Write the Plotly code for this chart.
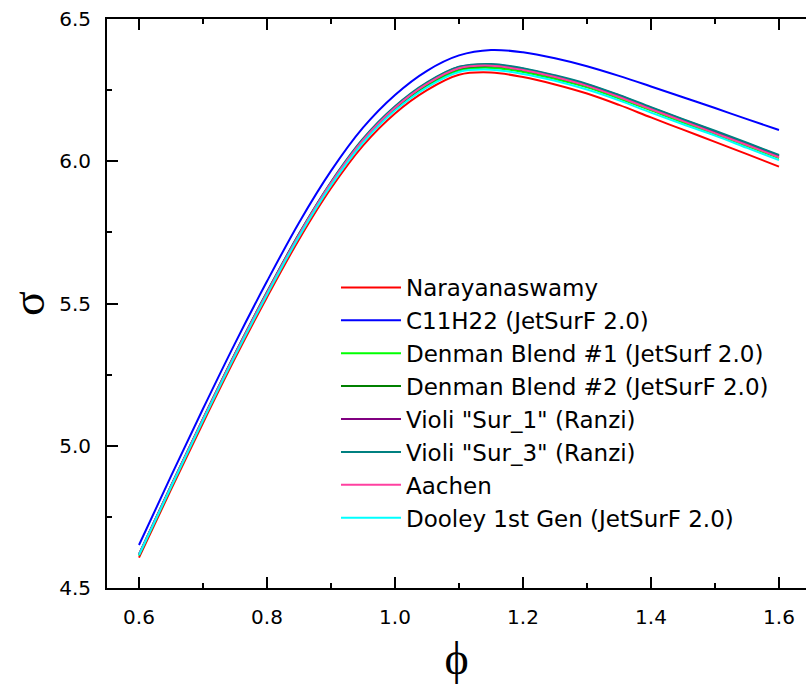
import plotly.graph_objects as go

# Equivalence ratio grid shared by all mechanisms
phi = [0.60, 0.65, 0.70, 0.75, 0.80, 0.85, 0.90, 0.95, 1.00, 1.05, 1.10,
       1.15, 1.20, 1.25, 1.30, 1.35, 1.40, 1.45, 1.50, 1.55, 1.60]

# Expansion ratio sigma for each surrogate / mechanism
narayanaswamy = [4.607, 4.846, 5.080, 5.307, 5.522, 5.725, 5.905, 6.055, 6.168, 6.250, 6.304,
                 6.312, 6.296, 6.270, 6.238, 6.198, 6.154, 6.111, 6.068, 6.025, 5.981]
c11h22 = [4.651, 4.893, 5.130, 5.360, 5.578, 5.784, 5.966, 6.118, 6.233, 6.318, 6.372,
          6.391, 6.383, 6.362, 6.334, 6.300, 6.263, 6.225, 6.187, 6.148, 6.110]
denman_1 = [4.614, 4.854, 5.089, 5.317, 5.532, 5.736, 5.917, 6.068, 6.182, 6.264, 6.319,
            6.328, 6.314, 6.289, 6.260, 6.220, 6.179, 6.136, 6.096, 6.053, 6.011]
denman_2 = [4.615, 4.855, 5.091, 5.319, 5.535, 5.739, 5.921, 6.072, 6.186, 6.270, 6.325,
            6.334, 6.320, 6.295, 6.265, 6.227, 6.184, 6.143, 6.102, 6.060, 6.018]
violi_sur1 = [4.618, 4.859, 5.094, 5.323, 5.539, 5.744, 5.925, 6.077, 6.191, 6.275, 6.331,
              6.340, 6.325, 6.300, 6.270, 6.231, 6.188, 6.146, 6.105, 6.063, 6.020]
violi_sur3 = [4.619, 4.860, 5.095, 5.324, 5.541, 5.745, 5.927, 6.079, 6.193, 6.277, 6.332,
              6.342, 6.327, 6.302, 6.272, 6.233, 6.190, 6.148, 6.107, 6.065, 6.022]
aachen = [4.617, 4.857, 5.093, 5.321, 5.537, 5.741, 5.923, 6.074, 6.188, 6.272, 6.327,
          6.336, 6.321, 6.296, 6.265, 6.226, 6.183, 6.141, 6.099, 6.057, 6.014]
dooley = [4.616, 4.855, 5.089, 5.316, 5.531, 5.735, 5.915, 6.065, 6.178, 6.260, 6.314,
          6.322, 6.307, 6.283, 6.252, 6.214, 6.171, 6.130, 6.090, 6.047, 6.004]

names = ["Narayanaswamy", "C11H22 (JetSurF 2.0)", "Denman Blend #1 (JetSurf 2.0)",
         "Denman Blend #2 (JetSurF 2.0)", 'Violi "Sur_1" (Ranzi)', 'Violi "Sur_3" (Ranzi)',
         "Aachen", "Dooley 1st Gen (JetSurF 2.0)"]
series = [narayanaswamy, c11h22, denman_1, denman_2, violi_sur1, violi_sur3, aachen, dooley]
colors = ["#FF0000", "#0000FF", "#00FF00", "#008000", "#800080", "#008080", "#FF40A0", "#00FFFF"]

fig = go.Figure()
for name, ys, col in zip(names, series, colors):
    fig.add_trace(go.Scatter(x=phi, y=ys, name=name, mode="lines",
                             line=dict(color=col, width=2, shape="spline")))

tick_font = dict(family="DejaVu Sans", size=20, color="black")
title_font = dict(family="Liberation Serif", size=46, color="black")

fig.update_layout(
    width=806, height=690,
    margin=dict(l=107, r=0, t=19, b=102, autoexpand=False),
    paper_bgcolor="white", plot_bgcolor="white",
    showlegend=True,
    legend=dict(x=0.3276, y=0.566, xanchor="left", yanchor="top",
                bgcolor="rgba(0,0,0,0)", borderwidth=0, itemwidth=60,
                font=dict(family="DejaVu Sans", size=23, color="black")),
    xaxis=dict(range=[0.55, 1.6422], tick0=0.6, dtick=0.2, tickformat=".1f",
               ticks="inside", ticklen=11, tickwidth=2, tickcolor="black",
               minor=dict(ticks="inside", ticklen=5, tickwidth=2, dtick=0.1, tick0=0.6,
                          tickcolor="black"),
               showline=True, linewidth=2, linecolor="black", mirror="ticks",
               showgrid=False, zeroline=False, tickfont=tick_font,
               ticklabelstandoff=10, automargin=False,
               title=dict(text="ϕ", font=title_font, standoff=14)),
    yaxis=dict(range=[4.5, 6.5], tick0=4.5, dtick=0.5, tickformat=".1f",
               ticks="inside", ticklen=11, tickwidth=2, tickcolor="black",
               minor=dict(ticks="inside", ticklen=5, tickwidth=2, dtick=0.25,
                          tickcolor="black"),
               showline=True, linewidth=2, linecolor="black", mirror=False,
               showgrid=False, zeroline=False, tickfont=tick_font,
               ticklabelstandoff=10, automargin=False),
    yaxis2=dict(range=[4.5, 6.5], matches="y", overlaying="y", side="right",
                tick0=4.5, dtick=0.5, ticks="inside", ticklen=7, tickwidth=2,
                tickcolor="black", showticklabels=False, automargin=False,
                minor=dict(ticks="inside", ticklen=2, tickwidth=2, dtick=0.25,
                           tickcolor="black"),
                showline=False, showgrid=False, zeroline=False),
    annotations=[dict(text="σ", xref="paper", yref="paper", x=-0.1502, y=0.5,
                      xanchor="left", yanchor="middle", textangle=-90,
                      borderpad=0, showarrow=False, font=title_font)],
)

fig.write_html("out.html")
